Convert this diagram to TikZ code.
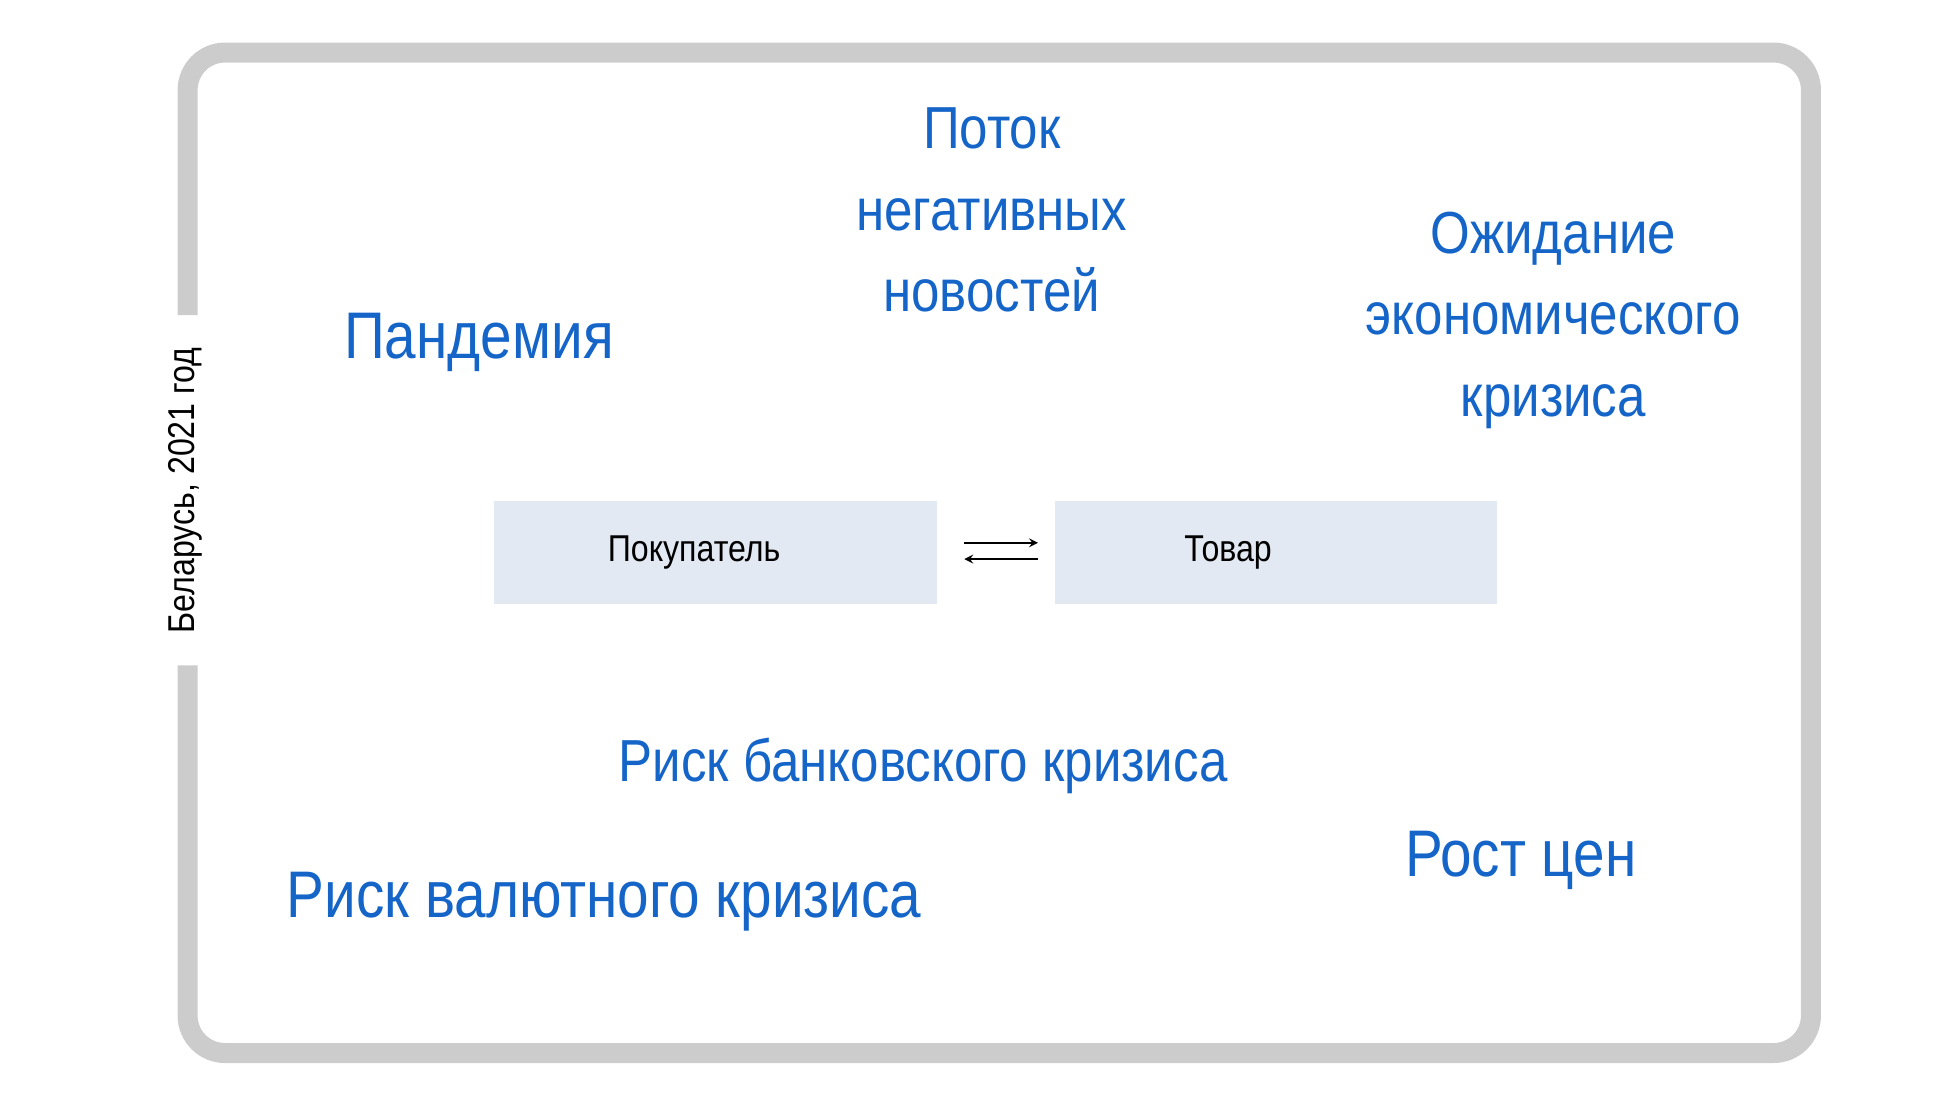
\documentclass[tikz,border=0pt]{standalone}
\usepackage{fontspec}
\setmainfont[FakeStretch=0.86]{Liberation Sans}
\usetikzlibrary{positioning}
\definecolor{riskblue}{RGB}{21,101,200}
\definecolor{boxfill}{RGB}{227,233,243}
\definecolor{framegray}{RGB}{204,204,204}

\begin{document}
\begin{tikzpicture}[x=0.02cm, y=-0.02cm, >=stealth,
    big/.style={text=riskblue, font=\fontsize{30}{37}\selectfont},
    mid/.style={text=riskblue, font=\fontsize{27}{37}\selectfont, align=center},
    party/.style={fill=boxfill, minimum width=7.08cm, minimum height=1.66cm,
      font=\fontsize{17}{20}\selectfont, text=black!85}]
      \useasboundingbox (0,0) rectangle (1564,880);
      % frame with a gap for the year label
      \draw[framegray, line width=0.32cm, rounded corners=0.6cm]
      (150,252) -- (150,42) -- (1448,42) -- (1448,842) -- (150,842) -- (150,532);
      \node[rotate=90, font=\fontsize{17}{20}\selectfont] (year) at (148,392) {Беларусь, 2021 год};

      \node[party, anchor=north west] (buyer) at (395,400) {};
      \node (buyertext) at (555,441.5) {\fontsize{17}{20}\selectfont Покупатель};
      \node[party, anchor=north west] (goods) at (843,400) {};
      \node (goodstext) at (982,441.5) {\fontsize{17}{20}\selectfont Товар};
      \coordinate (a1) at (771,434);
      \coordinate (a2) at (830,434);
      \coordinate (b1) at (771,447);
      \coordinate (b2) at (830,447);
      \draw[->, thick] (a1) -- (a2);
      \draw[->, thick] (b2) -- (b1);

      \node[mid] (news) at (793,168) {Поток\\негативных\\новостей};
      \node[mid] (crisis) at (1242,256) {Ожидание\\экономического\\кризиса};
      \node[big] (pandemic) at (383,274) {Пандемия};
      \node[mid] (bank) at (738,612) {Риск банковского кризиса};
      \node[big] (prices) at (1216,688) {Рост цен};
      \node[big] (currency) at (483,721) {Риск валютного кризиса};
    \end{tikzpicture}
\end{document}
